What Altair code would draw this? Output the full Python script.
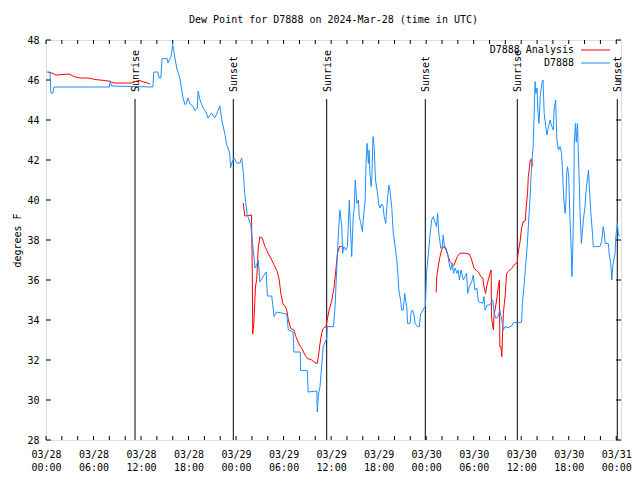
import altair as alt
import pandas as pd

# ---- data (hours since 2024-03-28 00:00 UTC, dew point in deg F) ----
station_hours = [
    0.25, 0.5, 0.63, 0.88, 1.0, 8.0, 8.1, 8.3, 13.5, 13.6,
    14.1, 14.3, 14.5, 14.65, 15.3, 15.4, 15.8, 16.0, 16.2, 16.5,
    16.9, 17.3, 17.55, 17.7, 17.9, 18.2, 18.55, 18.8, 19.1, 19.2,
    19.45, 19.85, 20.2, 20.45, 20.9, 21.3, 21.6, 21.95, 22.2, 22.6,
    22.8, 23.2, 23.3, 23.45, 23.75, 24.1, 24.5, 24.7, 24.9, 25.1,
    25.4, 25.85, 26.1, 26.4, 26.6, 26.8, 27.0, 27.45, 27.8, 27.95,
    28.5, 28.8, 29.1, 30.4, 30.6, 31.2, 31.3, 32.1, 32.15, 33.0,
    33.1, 34.2, 34.25, 34.4, 34.6, 34.8, 35.0, 35.45, 35.5, 36.3,
    36.5, 36.7, 36.9, 37.1, 37.35, 37.45, 37.6, 37.85, 38.05, 38.3,
    38.45, 38.6, 38.8, 38.9, 39.05, 39.25, 39.45, 39.55, 39.75, 39.95,
    40.05, 40.3, 40.4, 40.55, 40.7, 40.8, 40.9, 41.05, 41.15, 41.25,
    41.3, 41.45, 41.6, 41.8, 42.0, 42.15, 42.4, 42.55, 42.7, 42.9,
    43.1, 43.3, 43.45, 43.65, 43.85, 44.2, 44.4, 44.55, 44.8, 44.9,
    45.1, 45.3, 45.4, 45.55, 45.65, 45.95, 46.1, 46.25, 46.45, 46.6,
    46.9, 47.15, 47.3, 47.5, 47.7, 47.9, 48.05, 48.25, 48.5, 48.7,
    48.9, 49.1, 49.3, 49.45, 49.6, 49.85, 50.05, 50.15, 50.3, 50.5,
    50.7, 50.9, 51.1, 51.3, 51.45, 51.65, 51.9, 52.05, 52.2, 52.4,
    52.7, 52.9, 53.1, 53.25, 53.45, 53.75, 53.95, 54.15, 54.4, 54.6,
    55.15, 55.3, 55.45, 55.7, 56.05, 56.4, 56.6, 56.8, 57.05, 57.3,
    57.55, 57.75, 57.95, 58.35, 58.8, 59.0, 59.5, 59.85, 60.05, 60.15,
    60.35, 60.55, 60.75, 60.9, 61.1, 61.3, 61.5, 61.6, 61.75, 61.85,
    62.0, 62.1, 62.25, 62.4, 62.6, 62.75, 62.9, 63.1, 63.25, 63.4,
    63.65, 63.8, 64.05, 64.15, 64.35, 64.5, 64.7, 64.9, 65.1, 65.25,
    65.35, 65.55, 65.65, 65.75, 65.85, 66.0, 66.15, 66.3, 66.4, 66.5,
    66.65, 66.7, 66.85, 66.95, 67.1, 67.2, 67.35, 67.45, 67.6, 67.7,
    67.85, 68.05, 68.2, 68.35, 68.5, 68.6, 68.8, 69.0, 69.1, 69.95,
    70.15, 70.35, 70.5, 70.6, 71.0, 71.1, 71.3, 71.45, 71.55, 71.7,
    71.85, 71.95, 72.15, 72.25, 72.4,
]
station_dewpt = [
    46.4, 46.4, 45.35, 45.35, 45.65, 45.65, 45.93, 45.7, 45.65, 46.4,
    46.4, 46.1, 46.1, 47.07, 47.07, 46.85, 47.2, 47.77, 47.3, 46.6,
    46.1, 45.1, 44.77, 44.8, 45.1, 44.8, 44.7, 44.47, 44.6, 45.45,
    45.0, 44.6, 44.4, 44.1, 44.35, 44.1, 44.35, 44.7, 44.0, 43.27,
    42.77, 42.35, 41.6, 41.85, 42.1, 41.85, 41.85, 42.1, 41.45, 40.27,
    39.27, 38.77, 37.77, 36.6, 36.77, 37.0, 35.9, 36.2, 36.4, 35.2,
    35.2, 34.17, 34.4, 34.3, 33.5, 33.4, 32.4, 32.4, 31.47, 31.47,
    30.4, 30.45, 29.4, 30.3, 30.67, 31.67, 32.67, 33.1, 33.67, 33.67,
    34.67, 36.5, 38.17, 39.5, 38.67, 37.33, 37.67, 37.5, 37.67, 40.0,
    38.5, 37.17, 39.25, 39.5, 41.0, 39.83, 40.0, 39.17, 38.83, 38.42,
    39.0, 40.0, 41.83, 42.83, 41.83, 42.5, 41.33, 40.67, 41.2, 42.67,
    43.17, 42.5, 41.0, 40.5, 39.83, 39.6, 39.8, 39.7, 39.17, 38.83,
    40.0, 40.75, 40.42, 39.67, 38.33, 37.33, 36.5, 35.5, 34.92, 34.5,
    34.5, 35.33, 35.0, 34.67, 33.83, 33.83, 34.33, 34.5, 34.3, 33.83,
    33.67, 33.67, 34.33, 34.4, 34.6, 34.67, 36.33, 37.17, 38.33, 39.0,
    39.17, 38.9, 38.67, 39.33, 38.33, 37.58, 37.7, 38.25, 37.7, 37.6,
    37.33, 36.83, 36.5, 36.83, 36.33, 36.6, 36.33, 36.5, 36.0, 36.5,
    36.0, 36.17, 36.33, 35.33, 35.67, 35.92, 36.25, 35.5, 35.6, 34.92,
    34.83, 35.17, 34.5, 34.75, 34.75, 35.0, 34.33, 34.08, 34.15, 34.5,
    34.0, 33.5, 33.67, 33.62, 33.7, 33.87, 33.87, 33.87, 33.9, 34.83,
    35.67, 36.67, 37.67, 38.67, 40.0, 41.67, 42.67, 43.83, 45.92, 45.33,
    45.6, 44.5, 43.83, 45.17, 45.83, 46.0, 44.33, 43.67, 43.25, 43.58,
    44.0, 43.75, 43.5, 44.5, 45.0, 43.0, 42.5, 42.67, 42.33, 41.17,
    40.17, 39.33, 40.0, 41.33, 41.67, 41.2, 39.17, 37.67, 36.17, 37.33,
    40.33, 42.92, 43.83, 42.9, 43.83, 42.5, 40.67, 39.17, 37.83, 38.33,
    39.0, 39.67, 40.5, 41.0, 41.5, 40.67, 39.33, 38.33, 37.67, 37.67,
    37.92, 38.67, 38.3, 37.83, 37.83, 37.33, 36.83, 36.0, 36.67, 37.0,
    37.33, 38.17, 38.83, 38.33, 38.17,
]

analysis_hours = [
    0.15, 0.75, 1.25, 2.0, 2.9, 3.55, 4.3, 5.3, 6.3, 7.55,
    8.15, 8.6, 10.85, 11.35, 11.75, 12.35, 12.8, 13.15,
    24.9, 25.1, 25.95, 26.05, 26.1, 26.25, 26.45, 26.6, 26.8, 27.0,
    27.3, 27.65, 28.05, 28.5, 28.9, 29.2, 29.45, 29.65, 29.9, 30.2,
    30.4, 30.6, 30.9, 31.3, 31.55, 32.0, 32.3, 32.7, 33.0, 33.55,
    33.95, 34.25, 34.4, 34.6, 34.8, 35.0, 35.35, 35.5, 35.75, 36.05,
    36.35, 36.6, 36.8, 37.05, 37.35,
    49.25, 49.35, 49.55, 49.75, 49.95, 50.15, 50.4, 50.6, 50.8, 51.0,
    51.25, 51.5, 51.75, 51.95, 52.25, 52.8, 53.45, 53.75, 54.05, 54.3,
    54.6, 54.9, 55.15, 55.3, 55.5, 55.65, 55.85, 56.05, 56.2, 56.25,
    56.4, 56.5, 56.55, 56.9, 57.1, 57.25, 57.3, 57.45, 57.55, 57.65,
    57.75, 57.87, 58.0, 58.15, 58.35, 58.8, 59.1, 59.5, 59.6, 59.85,
    60.05, 60.25, 60.5, 60.6, 60.8, 60.9, 61.05, 61.15, 61.35, 61.4,
]
analysis_dewpt = [
    46.4, 46.35, 46.25, 46.27, 46.3, 46.17, 46.1, 46.1, 46.02, 45.97,
    45.93, 45.85, 45.85, 45.93, 45.98, 45.9, 45.85, 45.8,
    39.85, 39.2, 39.25, 36.3, 33.3, 33.9, 35.7, 36.0, 37.6, 38.15,
    38.1, 37.67, 37.33, 37.0, 36.67, 36.42, 36.0, 35.33, 34.83, 34.67,
    34.5, 34.0, 33.58, 33.5, 33.17, 32.75, 32.58, 32.25, 32.08, 32.0,
    31.87, 31.83, 32.17, 32.83, 33.33, 33.58, 33.67, 34.0, 34.5, 34.92,
    35.58, 36.5, 37.33, 37.67, 37.67,
    35.37, 36.2, 36.75, 37.17, 37.5, 37.67, 37.6, 37.4, 37.17, 36.92,
    36.8, 36.72, 37.0, 37.17, 37.33, 37.35, 37.3, 37.0, 36.58, 36.5,
    36.4, 36.17, 36.1, 35.67, 35.33, 35.7, 36.0, 36.33, 36.5, 34.17,
    33.67, 33.5, 34.17, 35.0, 35.67, 36.0, 32.67, 32.67, 32.17, 33.33,
    34.33, 34.83, 35.33, 36.33, 36.42, 36.58, 36.75, 36.87, 37.33, 37.9,
    38.6, 38.92, 38.95, 39.5, 40.33, 41.17, 41.67, 42.0, 42.05, 41.67,
]
analysis_run = [1] * 18 + [2] * 45 + [3] * 60

sun_hours = [11.24, 23.65, 35.44, 47.89, 59.51, 72.13]
sun_labels = ["Sunrise", "Sunset", "Sunrise", "Sunset", "Sunrise", "Sunset"]

y_tick_values = [28, 30, 32, 34, 36, 38, 40, 42, 44, 46, 48]
x_label_hours = [0, 6, 12, 18, 24, 30, 36, 42, 48, 54, 60, 66, 72]
x_tick_hours = list(range(0, 73, 2))

title_text = "Dew Point for D7888 on 2024-Mar-28 (time in UTC)"
legend_labels = ["D7888 Analysis", "D7888"]

# ---- chart ----
FONT = "DejaVu Sans Mono"
W, H = 575, 400
BLUE = "#1e8fff"
RED = "#ff0000"

xscale = alt.Scale(domain=[0, 72.6], nice=False, zero=False)
yscale = alt.Scale(domain=[28, 48], nice=False, zero=False)

x_axis = alt.Axis(
    values=x_label_hours,
    labelExpr="['03/' + (28 + floor(datum.value / 24)), ((datum.value % 24) < 10 ? '0' : '') + (datum.value % 24) + ':00']",
    tickSize=0, domain=False, grid=False, title=None,
    labelFont=FONT, labelFontSize=10, labelColor="black",
    labelPadding=9, labelLineHeight=13, labelAngle=0, labelFlush=False,
)
y_axis = alt.Axis(
    values=y_tick_values, tickSize=0, domain=False, grid=False,
    title="degrees F", titleFont=FONT, titleFontSize=10, titleFontWeight="normal",
    titleColor="black", titlePadding=4,
    labelFont=FONT, labelFontSize=10, labelColor="black", labelPadding=7,
)

X = lambda f: alt.X(f, type="quantitative", scale=xscale, axis=x_axis)
Y = lambda f: alt.Y(f, type="quantitative", scale=yscale, axis=y_axis)

station_df = pd.DataFrame({"h": station_hours, "v": station_dewpt})
analysis_df = pd.DataFrame({"h": analysis_hours, "v": analysis_dewpt, "run": analysis_run})
sun_df = pd.DataFrame({"h": sun_hours, "label": sun_labels})
ytick_df = pd.DataFrame({"v": y_tick_values})
xtick_df = pd.DataFrame({"h": x_tick_hours})

layers = []

# inward ticks (gnuplot style) on all four sides
layers.append(alt.Chart(ytick_df).mark_rule(color="black", strokeWidth=1).encode(
    y=Y("v"), x=alt.value(0), x2=alt.value(5)))
layers.append(alt.Chart(ytick_df).mark_rule(color="black", strokeWidth=1).encode(
    y=Y("v"), x=alt.value(W - 5), x2=alt.value(W)))
layers.append(alt.Chart(xtick_df).mark_rule(color="black", strokeWidth=1).encode(
    x=X("h"), y=alt.value(H - 4), y2=alt.value(H)))
layers.append(alt.Chart(xtick_df).mark_rule(color="black", strokeWidth=1).encode(
    x=X("h"), y=alt.value(0), y2=alt.value(4)))

# sunrise / sunset lines and labels
layers.append(alt.Chart(sun_df).mark_rule(color="black", strokeWidth=1).encode(
    x=X("h"), y=alt.value(59), y2=alt.value(H)))
layers.append(alt.Chart(sun_df).mark_text(
    angle=270, align="left", baseline="middle", font=FONT, fontSize=10, color="black", dy=1
).encode(x=X("h"), y=alt.value(52), text="label:N"))

# series
layers.append(alt.Chart(analysis_df).mark_line(color=RED, strokeWidth=1, clip=True).encode(
    x=X("h"), y=Y("v"), detail="run:N"))
layers.append(alt.Chart(station_df).mark_line(color=BLUE, strokeWidth=1, clip=True).encode(
    x=X("h"), y=Y("v")))

# key (top right, inside plot)
layers.append(alt.Chart().mark_text(
    text=legend_labels[0], align="right", baseline="middle", font=FONT, fontSize=10, color="black"
).encode(x=alt.value(528), y=alt.value(10)))
layers.append(alt.Chart().mark_text(
    text=legend_labels[1], align="right", baseline="middle", font=FONT, fontSize=10, color="black"
).encode(x=alt.value(528), y=alt.value(23)))
layers.append(alt.Chart().mark_rule(color=RED, strokeWidth=1).encode(
    x=alt.value(535), x2=alt.value(564), y=alt.value(10)))
layers.append(alt.Chart().mark_rule(color=BLUE, strokeWidth=1).encode(
    x=alt.value(535), x2=alt.value(564), y=alt.value(23)))

chart = alt.layer(*layers).properties(
    width=W, height=H,
    title=alt.TitleParams(title_text, font=FONT, fontSize=10, fontWeight="normal",
                          anchor="middle", color="black", offset=10),
    autosize=alt.AutoSizeParams(type="none"),
    padding={"left": 38, "top": 32, "right": 11, "bottom": 32},
).configure_view(stroke="black", strokeWidth=1).configure(background="white")

chart.save("out.html", embed_options={"renderer": "svg", "actions": False})
